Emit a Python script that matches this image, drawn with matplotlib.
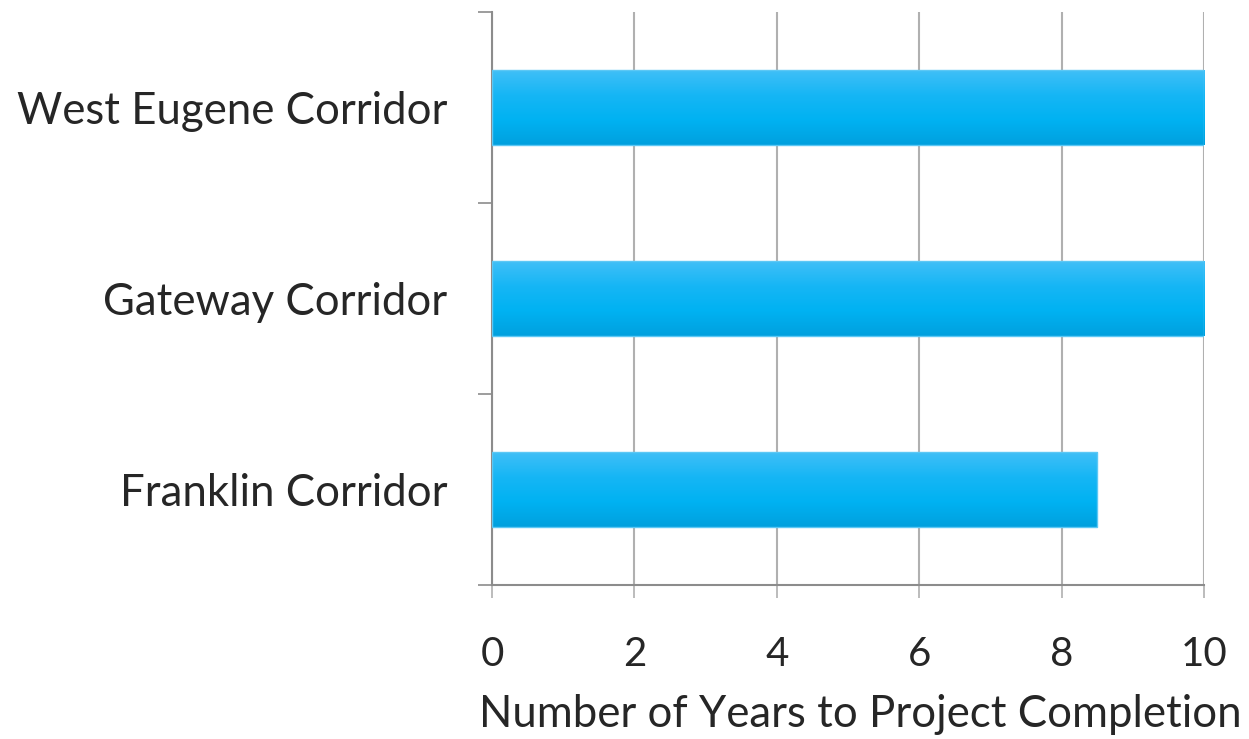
import numpy as np
import matplotlib
matplotlib.use('Agg')
import matplotlib.pyplot as plt
from matplotlib.colors import LinearSegmentedColormap

corridors = ['Franklin Corridor', 'Gateway Corridor', 'West Eugene Corridor']
years = [8.5, 10, 10]
xticks = [0, 2, 4, 6, 8, 10]

plt.rcParams['font.family'] = ['Lato', 'DejaVu Sans']

fig = plt.figure(figsize=(12.49, 7.39), dpi=100)
ax = fig.add_axes([0.3939, 0.2084, 0.9640 - 0.3939, 0.9838 - 0.2084])

pos = np.arange(len(corridors))
bars = ax.barh(pos, years, height=0.39, facecolor='none', edgecolor='#5cc8f5', linewidth=1.0, zorder=3)

# vertical gradient fill for each bar
grad = LinearSegmentedColormap.from_list('g', ['#00a0de', '#00b2f2', '#16b6f5', '#40bff7'])
g = np.linspace(0, 1, 256).reshape(-1, 1)
for b in bars:
    x0, y0 = b.get_x(), b.get_y()
    w, h = b.get_width(), b.get_height()
    ax.imshow(g, cmap=grad, origin='lower', aspect='auto',
              extent=[x0, x0 + w, y0, y0 + h], zorder=2, interpolation='bicubic')

ax.set_xlim(0, 10)
ax.set_ylim(-0.5, len(corridors) - 0.5)
ax.set_xticks(xticks)
ax.set_xticklabels([str(t) for t in xticks], fontsize=29, color='#262626')
ax.set_yticks(pos)
ax.set_yticklabels(corridors, fontsize=31.5, color='#262626')
ax.tick_params(axis='y', length=0, pad=32)
ax.tick_params(axis='x', length=9, pad=28, color='#b0b0b0', width=1.2)

# minor ticks on category boundaries
ax.set_yticks(np.arange(-0.5, len(corridors), 1.0), minor=True)
ax.tick_params(axis='y', which='minor', length=10, color='#8c8c8c', width=1.2)

ax.grid(axis='x', color='#b0b0b0', linewidth=1.5, zorder=1)
ax.set_axisbelow(True)
for s in ['top', 'right']:
    ax.spines[s].set_visible(False)
for s in ['left', 'bottom']:
    ax.spines[s].set_color('#8c8c8c')
    ax.spines[s].set_linewidth(1.5)

ax.set_xlabel('Number of Years to Project Completion', fontsize=31.5, color='#262626')
ax.xaxis.set_label_coords(0.517, -0.19)

fig.savefig('out.png', dpi=100)
